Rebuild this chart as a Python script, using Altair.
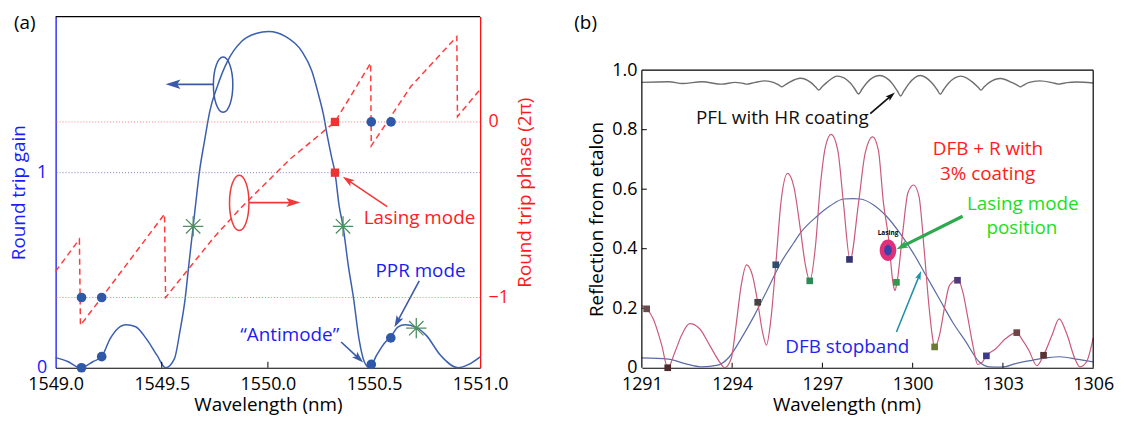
import math
import altair as alt
import pandas as pd

FONT = "Open Sans"

# ---------------- panel (a) data ----------------
gain_wl = [1549.000, 1549.057, 1549.117, 1549.177, 1549.217, 1549.257, 1549.292, 1549.332,
           1549.377, 1549.427, 1549.478, 1549.518, 1549.560, 1549.585, 1549.610, 1549.627,
           1549.648, 1549.662, 1549.677, 1549.702, 1549.727, 1549.760, 1549.810, 1549.877,
           1549.944, 1550.004, 1550.082, 1550.160, 1550.207, 1550.238, 1550.261, 1550.281,
           1550.300, 1550.316, 1550.336, 1550.354, 1550.379, 1550.404, 1550.429, 1550.454,
           1550.479, 1550.512, 1550.554, 1550.576, 1550.612, 1550.646, 1550.696, 1550.746,
           1550.813, 1550.896, 1550.946, 1551.000]
gain_val = [0.052, 0.032, 0.000, 0.032, 0.057, 0.149, 0.200, 0.220,
            0.210, 0.149, 0.063, 0.000, 0.047, 0.183, 0.352, 0.522,
            0.725, 0.861, 1.000, 1.166, 1.318, 1.437, 1.572, 1.674,
            1.713, 1.724, 1.699, 1.622, 1.521, 1.402, 1.301, 1.182,
            1.080, 1.000, 0.827, 0.725, 0.522, 0.352, 0.149, 0.031,
            0.000, 0.064, 0.132, 0.153, 0.208, 0.220, 0.208, 0.166,
            0.064, 0.000, 0.017, 0.056]

phase_wl = [1549.000, 1549.112, 1549.117, 1549.217, 1549.513, 1549.518, 1549.744, 1549.877,
            1550.105, 1550.316, 1550.484, 1550.487, 1550.674, 1550.890, 1550.893, 1551.000]
phase_val = [-0.851, -0.668, -1.158, -1.000, -0.525, -1.000, -0.660, -0.484,
             -0.211, 0.000, 0.335, -0.136, 0.203, 0.486, 0.030, 0.186]

dot_gain_wl = [1549.122, 1549.217, 1550.487, 1550.579]
dot_gain_val = [0.000, 0.057, 0.017, 0.153]
dot_phase_wl = [1549.122, 1549.217, 1550.487, 1550.580]
dot_phase_val = [-1.0, -1.0, 0.0, 0.0]

lasing_sq_wl = [1550.316]
lasing_sq_gain = [1.0]
lasing_sq_phase = [0.0]

star_wl = [1549.648, 1550.354, 1550.699]
star_gain = [0.725, 0.725, 0.203]

gain_ref_lines = [1.0]
phase_ref_lines = [0.0, -1.0]

a_xticks = [1549.0, 1549.5, 1550.0, 1550.5, 1551.0]
a_inner_ticks = [1549.5, 1550.0, 1550.5]

ell_gain = [(1549.789, 1.451)]
ell_phase = [(1549.865, -0.461)]

# (x tail, y tail, x tip, y tip, colour, width, head size)
arrows_gain = [
    (1549.744, 1.453, 1549.518, 1.453, "#3a5aa8", 1.8, 900),
    (1550.562, 0.826, 1550.353, 0.979, "#f03a3a", 1.6, 560),
    (1550.713, 0.445, 1550.596, 0.208, "#3a5aa8", 1.6, 560),
    (1550.345, 0.132, 1550.449, 0.027, "#3a5aa8", 1.6, 560),
]
arrows_phase = [
    (1549.911, -0.459, 1550.153, -0.459, "#f03a3a", 1.8, 800),
]

texts_a = [
    ("Lasing mode", 1550.714, 0.738, "#ff2020"),
    ("PPR mode", 1550.719, 0.467, "#1c1cf0"),
    ("\u201cAntimode\u201d", 1550.103, 0.135, "#1c1cf0"),
]

# ---------------- panel (b) data ----------------
pfl_wl = [1291.00, 1291.90, 1292.35, 1293.00, 1293.65, 1294.10,
          1294.39, 1294.50, 1294.61, 1294.77, 1295.10,
          1295.39, 1295.55, 1295.66, 1295.77, 1295.93, 1296.27,
          1296.61, 1296.77, 1296.88, 1296.99, 1297.15, 1297.50,
          1297.93, 1298.09, 1298.20, 1298.31, 1298.47, 1298.90,
          1299.33, 1299.49, 1299.60, 1299.71, 1299.87, 1300.25,
          1300.65, 1300.81, 1300.92, 1301.03, 1301.19, 1301.60,
          1302.00, 1302.16, 1302.27, 1302.38, 1302.54, 1302.92,
          1303.31, 1303.47, 1303.58, 1303.69, 1303.85, 1304.22,
          1304.59, 1304.75, 1304.86, 1304.97, 1305.13, 1305.45, 1306.00]
pfl_val = [0.959, 0.961, 0.955, 0.961, 0.953, 0.959,
           0.955, 0.953, 0.955, 0.959, 0.964,
           0.958, 0.950, 0.944, 0.951, 0.961, 0.973,
           0.959, 0.944, 0.933, 0.944, 0.959, 0.980,
           0.957, 0.935, 0.920, 0.935, 0.957, 0.982,
           0.954, 0.930, 0.913, 0.930, 0.954, 0.982,
           0.956, 0.935, 0.919, 0.935, 0.956, 0.980,
           0.959, 0.944, 0.933, 0.944, 0.958, 0.972,
           0.958, 0.950, 0.944, 0.950, 0.958, 0.964,
           0.959, 0.955, 0.953, 0.955, 0.958, 0.960, 0.957]

dfb_wl = [1291.00, 1291.16, 1291.38, 1291.66, 1291.86, 1292.10, 1292.32, 1292.59, 1292.92,
          1293.25, 1293.58, 1293.75, 1293.97, 1294.13, 1294.30, 1294.48, 1294.68, 1294.85,
          1295.01, 1295.14, 1295.29, 1295.45, 1295.62, 1295.84, 1296.05, 1296.27, 1296.44,
          1296.58, 1296.77, 1296.93, 1297.10, 1297.29, 1297.51, 1297.70, 1297.92, 1298.20,
          1298.42, 1298.67, 1298.86, 1299.03, 1299.19, 1299.36, 1299.41, 1299.48, 1299.68,
          1299.84, 1300.03, 1300.21, 1300.39, 1300.54, 1300.65, 1300.73, 1300.89, 1301.07,
          1301.22, 1301.50, 1301.67, 1301.84, 1302.00, 1302.16, 1302.32, 1302.45, 1302.76,
          1303.09, 1303.44, 1303.69, 1303.86, 1304.13, 1304.35, 1304.63, 1304.87, 1305.12,
          1305.39, 1305.56, 1305.78, 1306.00]
dfb_val = [0.209, 0.198, 0.164, 0.076, 0.000, 0.053, 0.109, 0.148, 0.131,
           0.076, 0.020, 0.000, 0.031, 0.142, 0.276, 0.346, 0.309, 0.220,
           0.120, 0.076, 0.164, 0.346, 0.553, 0.653, 0.609, 0.464, 0.342,
           0.292, 0.409, 0.609, 0.742, 0.784, 0.731, 0.553, 0.362, 0.553,
           0.720, 0.776, 0.731, 0.553, 0.442, 0.276, 0.259, 0.287, 0.464,
           0.587, 0.614, 0.576, 0.387, 0.209, 0.109, 0.067, 0.109, 0.209,
           0.276, 0.298, 0.253, 0.164, 0.076, 0.011, 0.020, 0.040, 0.064,
           0.098, 0.117, 0.087, 0.059, 0.007, 0.042, 0.109, 0.164, 0.114,
           0.031, 0.003, 0.020, 0.100]

stop_wl = [1291.00, 1291.88, 1292.43, 1292.98, 1293.53, 1293.91, 1294.30, 1294.74, 1295.18,
           1295.62, 1296.05, 1296.27, 1296.82, 1297.26, 1297.70, 1298.03, 1298.25, 1298.69,
           1299.13, 1299.57, 1300.01, 1300.45, 1300.89, 1301.33, 1301.77, 1302.21, 1302.54,
           1302.98, 1303.42, 1303.97, 1304.50, 1304.90, 1305.50, 1306.00]
stop_val = [0.033, 0.029, 0.014, 0.003, 0.009, 0.037, 0.098, 0.176, 0.264,
            0.353, 0.420, 0.453, 0.509, 0.544, 0.567, 0.568, 0.567, 0.548,
            0.509, 0.453, 0.387, 0.309, 0.231, 0.153, 0.087, 0.020, 0.003,
            0.002, 0.014, 0.025, 0.034, 0.037, 0.028, 0.020]

mode_wl = [1291.16, 1291.86, 1294.85, 1295.45, 1296.58, 1297.90,
           1299.46, 1300.73, 1301.49, 1302.45, 1303.46, 1304.35]
mode_val = [0.198, 0.000, 0.220, 0.346, 0.292, 0.364,
            0.287, 0.070, 0.294, 0.040, 0.118, 0.042]
mode_col = ["#6a4a4a", "#4a2a2a", "#444444", "#2e4d6e", "#2e8a55", "#34346e",
            "#2e9a4a", "#6b7a35", "#4e3a78", "#3a3a8e", "#6e4444", "#5a3434"]

lasing_pos = [(1299.18, 0.395)]

b_xticks = [1291, 1294, 1297, 1300, 1303, 1306]
b_yticks = [0, 0.2, 0.4, 0.6, 0.8, 1.0]

arrows_b = [
    (1298.59, 0.854, 1299.41, 0.925, "#111111", 1.8, 380),
    (1301.66, 0.509, 1299.46, 0.398, "#2fa84f", 3.2, 560),
    (1299.46, 0.120, 1300.28, 0.325, "#1f8fa8", 1.5, 330),
]

texts_b = [
    ("PFL with HR coating", 1295.67, 0.818, "#111111"),
    ("DFB + R with", 1302.50, 0.714, "#ff2020"),
    ("3% coating", 1302.49, 0.631, "#ff2020"),
    ("Lasing mode", 1303.66, 0.531, "#22dd22"),
    ("position", 1303.63, 0.450, "#22dd22"),
    ("DFB stopband", 1297.83, 0.048, "#2424ee"),
]

# ---------------- geometry / styles ----------------
WA, WB, H = 428, 455, 354
XA = [1549.0, 1551.0]
GA = [0.0, 1.8]
PA = [-1.4, 0.6]
XB = [1291.0, 1306.0]
YB = [0.0, 1.18]

xa = alt.Scale(domain=XA, nice=False, zero=False)
ga = alt.Scale(domain=GA, nice=False, zero=False)
pa = alt.Scale(domain=PA, nice=False, zero=False)
xb = alt.Scale(domain=XB, nice=False, zero=False)
yb = alt.Scale(domain=YB, nice=False, zero=False)

HEAD = "M0,0L0.32,1L0,0.78L-0.32,1Z"
STAR = "M-1,0L1,0M0,-1L0,1M-0.71,-0.71L0.71,0.71M-0.71,0.71L0.71,-0.71"

x_axis_a = alt.Axis(values=a_xticks, format=".1f", title="Wavelength (nm)",
                    labelFlush=False, labelOverlap=False, ticks=False,
                    domainColor="black", domainWidth=1.2, labelPadding=8,
                    titlePadding=2, labelColor="black", titleColor="black")
y_axis_left = alt.Axis(values=[0, 1], format="d", title="Round trip gain", orient="left",
                       labelColor="#1a1aff", titleColor="#1a1aff", domainColor="#0000ff",
                       domainWidth=1.2, ticks=False, labelPadding=9, titlePadding=8,
                       labelFlush=False)
y_axis_right = alt.Axis(values=[0, -1], labelExpr="datum.value < 0 ? '\u22121' : '0'",
                        title="Round trip phase (2\u03c0)", orient="right",
                        labelColor="#ff1a1a", titleColor="#ff1a1a", domainColor="#ff0000",
                        domainWidth=1.2, titleAngle=270, titleBaseline="top",
                        ticks=False, labelPadding=8, titlePadding=7, labelFlush=False)
x_axis_b = alt.Axis(values=b_xticks, format="d", title="Wavelength (nm)", titleX=206.3,
                    labelFlush=False, labelOverlap=False, ticks=False,
                    domainColor="black", domainWidth=1.2, labelPadding=8, titlePadding=2,
                    labelColor="black", titleColor="black")
y_axis_b = alt.Axis(values=b_yticks,
                    labelExpr="datum.value == 0 ? '0' : format(datum.value, '.1f')",
                    title="Reflection from etalon", titleY=H - 150, domain=False, ticks=False,
                    labelPadding=5, titlePadding=5, labelFlush=False, labelColor="black",
                    titleColor="black")


def mk(kind, scale, axis):
    def f(field):
        if kind == "x":
            return alt.X(field, type="quantitative", scale=scale, axis=axis)
        return alt.Y(field, type="quantitative", scale=scale, axis=axis)
    return f


XAe = mk("x", xa, x_axis_a)
GAe = mk("y", ga, y_axis_left)
PAe = mk("y", pa, y_axis_right)
XBe = mk("x", xb, x_axis_b)
YBe = mk("y", yb, y_axis_b)


def ellipse_path(rx):
    k = 0.5523
    return (f"M0,-1C{k*rx:.3f},-1 {rx:.3f},{-k:.3f} {rx:.3f},0"
            f"C{rx:.3f},{k:.3f} {k*rx:.3f},1 0,1"
            f"C{-k*rx:.3f},1 {-rx:.3f},{k:.3f} {-rx:.3f},0"
            f"C{-rx:.3f},{-k:.3f} {-k*rx:.3f},-1 0,-1Z")


one = pd.DataFrame({"a": [0]})


def arrow_layers(rows, ex, ey, xdom, ydom, w, h):
    sx = w / (xdom[1] - xdom[0])
    sy = h / (ydom[1] - ydom[0])
    recs = []
    for (x0, y0, x1, y1, col, lw, hs) in rows:
        dx = (x1 - x0) * sx
        dy = -(y1 - y0) * sy
        L = math.hypot(dx, dy)
        ux, uy = dx / L, dy / L
        ang = math.degrees(math.atan2(dx, -dy)) % 360
        back = 0.7 * math.sqrt(hs) / 2
        recs.append(dict(x0=x0, y0=y0, xe=x1 - ux * back / sx, ye=y1 + uy * back / sy,
                         x1=x1, y1=y1, c=col, w=lw, a=ang, s=hs))
    df = pd.DataFrame(recs)
    line = alt.Chart(df).mark_rule(strokeCap="butt").encode(
        x=ex("x0"), y=ey("y0"), x2="xe:Q", y2="ye:Q",
        color=alt.Color("c:N", scale=None),
        strokeWidth=alt.StrokeWidth("w:Q", scale=None))
    head = alt.Chart(df).mark_point(shape=HEAD, filled=True, opacity=1).encode(
        x=ex("x1"), y=ey("y1"),
        angle=alt.Angle("a:Q", scale=None),
        size=alt.Size("s:Q", scale=None),
        color=alt.Color("c:N", scale=None))
    return [line, head]


def text_layer(rows, ex, ey, size):
    df = pd.DataFrame(rows, columns=["t", "x", "y", "c"])
    return alt.Chart(df).mark_text(font=FONT, fontSize=size, align="center",
                                   baseline="alphabetic").encode(
        x=ex("x"), y=ey("y"), text="t:N", color=alt.Color("c:N", scale=None))


# ---------------- panel (a) ----------------
df_gain = pd.DataFrame({"wl": gain_wl, "g": gain_val})
df_phase = pd.DataFrame({"wl": phase_wl, "p": phase_val, "i": list(range(len(phase_wl)))})

gain_curve = alt.Chart(df_gain).mark_line(color="#3a5fae", strokeWidth=1.5,
                                          interpolate="monotone").encode(
    x=XAe("wl"), y=GAe("g"))

gain_ref = alt.Chart(pd.DataFrame({"v": gain_ref_lines})).mark_rule(
    color="#7b7bc4", strokeDash=[1, 2], strokeWidth=1).encode(y=GAe("v"))

top_border = alt.Chart(one).mark_rule(color="black", strokeWidth=1.2).encode(
    x=alt.value(0), x2=alt.value(WA), y=alt.value(0))

inner_ticks_a = alt.Chart(pd.DataFrame({"t": a_inner_ticks})).mark_rule(
    color="black", strokeWidth=1).encode(x=XAe("t"), y=alt.value(H), y2=alt.value(H - 6))

anchor = alt.Chart(one).mark_rule(strokeWidth=0, opacity=0).encode(
    x=alt.value(-47.4), x2=alt.value(-47.4), y=alt.value(-7), y2=alt.value(-7))

gain_dots = alt.Chart(pd.DataFrame({"wl": dot_gain_wl, "g": dot_gain_val})).mark_circle(
    color="#2f58a8", size=95, opacity=1).encode(x=XAe("wl"), y=GAe("g"))

sq_gain = alt.Chart(pd.DataFrame({"wl": lasing_sq_wl, "g": lasing_sq_gain})).mark_square(
    color="#ee3333", size=70, opacity=1).encode(x=XAe("wl"), y=GAe("g"))

stars = alt.Chart(pd.DataFrame({"wl": star_wl, "g": star_gain})).mark_point(
    shape=STAR, filled=False, color="#4f8f61", size=420, strokeWidth=1.3, opacity=1).encode(
    x=XAe("wl"), y=GAe("g"))

ell_a_blue = alt.Chart(pd.DataFrame(ell_gain, columns=["x", "y"])).mark_point(
    shape=ellipse_path(0.352), filled=False, color="#3a5aa8", size=3102,
    strokeWidth=1.5, opacity=1).encode(x=XAe("x"), y=GAe("y"))

gain_texts = text_layer(texts_a, XAe, GAe, 19)

label_a = alt.Chart(one).mark_text(text="(a)", font=FONT, fontSize=19, align="center",
                                   baseline="alphabetic", color="black").encode(
    x=alt.value(-31.1), y=alt.value(12.3))

gain_group = alt.layer(
    gain_ref, gain_curve, top_border, inner_ticks_a, anchor, gain_dots, sq_gain, stars,
    ell_a_blue, *arrow_layers(arrows_gain, XAe, GAe, XA, GA, WA, H), gain_texts, label_a)

phase_curve = alt.Chart(df_phase).mark_line(color="#ff3b3b", strokeWidth=1.5,
                                            strokeDash=[6, 4]).encode(
    x=XAe("wl"), y=PAe("p"), order="i:Q")

phase_ref = alt.Chart(pd.DataFrame({"v": phase_ref_lines})).mark_rule(
    color="#ff7a7a", strokeDash=[1, 2], strokeWidth=1).encode(y=PAe("v"))

phase_dots = alt.Chart(pd.DataFrame({"wl": dot_phase_wl, "p": dot_phase_val})).mark_circle(
    color="#2f58a8", size=95, opacity=1).encode(x=XAe("wl"), y=PAe("p"))

sq_phase = alt.Chart(pd.DataFrame({"wl": lasing_sq_wl, "p": lasing_sq_phase})).mark_square(
    color="#ee3333", size=70, opacity=1).encode(x=XAe("wl"), y=PAe("p"))

ell_a_red = alt.Chart(pd.DataFrame(ell_phase, columns=["x", "y"])).mark_point(
    shape=ellipse_path(0.352), filled=False, color="#f03a3a", size=3102,
    strokeWidth=1.5, opacity=1).encode(x=XAe("x"), y=PAe("y"))

phase_group = alt.layer(phase_ref, phase_curve, phase_dots, sq_phase, ell_a_red,
                        *arrow_layers(arrows_phase, XAe, PAe, XA, PA, WA, H))

panel_a = alt.layer(gain_group, phase_group).resolve_scale(y="independent").properties(
    width=WA, height=H)

# ---------------- panel (b) ----------------
stop_curve = alt.Chart(pd.DataFrame({"wl": stop_wl, "r": stop_val})).mark_line(
    color="#5b6ba5", strokeWidth=1.2, interpolate="monotone").encode(
    x=XBe("wl"), y=YBe("r"))

pfl_curve = alt.Chart(pd.DataFrame({"wl": pfl_wl, "r": pfl_val})).mark_line(
    color="#6e6e6e", strokeWidth=1.4, interpolate="monotone").encode(
    x=XBe("wl"), y=YBe("r"))

dfb_curve = alt.Chart(pd.DataFrame({"wl": dfb_wl, "r": dfb_val})).mark_line(
    color="#c95a7a", strokeWidth=1.2, interpolate="monotone").encode(
    x=XBe("wl"), y=YBe("r"))

modes = alt.Chart(pd.DataFrame({"wl": mode_wl, "r": mode_val, "c": mode_col})).mark_square(
    size=45, opacity=1).encode(x=XBe("wl"), y=YBe("r"),
                               color=alt.Color("c:N", scale=None))

df_las = pd.DataFrame(lasing_pos, columns=["x", "y"])
las_outer = alt.Chart(df_las).mark_point(
    shape=ellipse_path(0.77), filled=True, color="#e0307a", size=471, opacity=1).encode(
    x=XBe("x"), y=YBe("y"))
las_inner = alt.Chart(df_las).mark_point(
    shape=ellipse_path(0.72), filled=True, color="#3344aa", size=110, opacity=1).encode(
    x=XBe("x"), y=YBe("y"))
las_tag = alt.Chart(df_las).mark_text(text="Lasing", font=FONT, fontSize=6.5,
                                      fontWeight="bold", color="black", dy=-17).encode(
    x=XBe("x"), y=YBe("y"))

frame_lines = pd.DataFrame({
    "x": [XB[0], XB[1], XB[0]], "x2": [XB[0], XB[1], XB[1]],
    "y": [0.0, 0.0, 1.0], "y2": [1.0, 1.0, 1.0]})
frame_b = alt.Chart(frame_lines).mark_rule(color="black", strokeWidth=1.2).encode(
    x=XBe("x"), x2="x2:Q", y=YBe("y"), y2="y2:Q")

inner_xt_b = alt.Chart(pd.DataFrame({"t": b_xticks[1:-1]})).mark_rule(
    color="black", strokeWidth=1).encode(x=XBe("t"), y=alt.value(H), y2=alt.value(H - 5))
inner_yt_b = alt.Chart(pd.DataFrame({"t": b_yticks[1:-1]})).mark_rule(
    color="black", strokeWidth=1).encode(y=YBe("t"), x=alt.value(0), x2=alt.value(5))

texts_b_layer = text_layer(texts_b, XBe, YBe, 19)

label_b = alt.Chart(one).mark_text(text="(b)", font=FONT, fontSize=19, align="center",
                                   baseline="alphabetic", color="black").encode(
    x=alt.value(-56.7), y=alt.value(12.5))

panel_b = alt.layer(
    stop_curve, pfl_curve, dfb_curve, frame_b, inner_xt_b, inner_yt_b, modes,
    las_outer, las_inner, las_tag,
    *arrow_layers(arrows_b, XBe, YBe, XB, YB, WB, H), texts_b_layer, label_b).properties(
    width=WB, height=H)

chart = alt.hconcat(panel_a, panel_b, spacing=163, bounds="flush").properties(
    padding={"left": 0, "top": 0, "right": 4, "bottom": 2}
).configure_view(stroke=None).configure_axis(
    labelFont=FONT, titleFont=FONT, labelFontSize=18, titleFontSize=19,
    titleFontWeight="normal", grid=False)

chart.save("out.html", embed_options={"renderer": "svg", "actions": False})
